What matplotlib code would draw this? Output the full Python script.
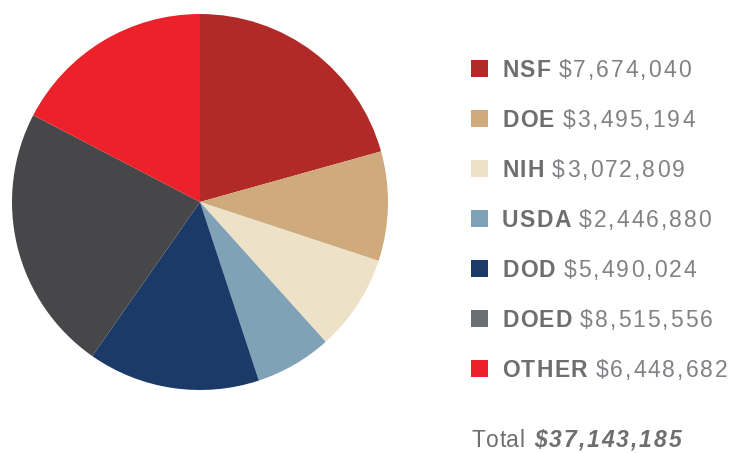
import matplotlib
matplotlib.use('Agg')
import matplotlib.pyplot as plt
from matplotlib.patches import Rectangle

# ── data ──────────────────────────────────────────────────────────────
agencies = ['NSF', 'DOE', 'NIH', 'USDA', 'DOD', 'DOED', 'OTHER']
amounts  = [7674040, 3495194, 3072809, 2446880, 5490024, 8515556, 6448682]
total    = 37143185
pie_colors    = ['#B22A27', '#CFAA7C', '#EDE1C7', '#80A2B7', '#1B3A68', '#474749', '#ED2129']
legend_colors = ['#B22A27', '#CFAA7C', '#EDE1C7', '#80A2B7', '#1B3A68', '#6D6E71', '#ED2129']

W, H = 734, 453
plt.rcParams['font.family'] = ['Liberation Sans', 'DejaVu Sans']
fig = plt.figure(figsize=(W/100, H/100), dpi=100)

def fx(x): return x / W
def fy(y): return 1 - y / H

# pie: centre (200,202), radius 188 px
cx, cy, r = 200, 202, 188
ax = fig.add_axes([fx(cx - r), fy(cy + r), 2*r/W, 2*r/H])
ax.pie(amounts, colors=pie_colors, startangle=90, counterclock=False,
       radius=1, wedgeprops=dict(linewidth=0))
ax.set_xlim(-1, 1);  ax.set_ylim(-1, 1)
ax.set_aspect('auto')
ax.axis('off')

fig.canvas.draw()
renderer = fig.canvas.get_renderer()

def tracked(x, y, s, track, **kw):
    """draw s char by char from pixel x, adding `track` px between glyphs"""
    for ch in s:
        t = fig.text(fx(x), fy(y), ch, va='center_baseline', ha='left', **kw)
        w = t.get_window_extent(renderer).width
        if ch == ' ':
            w = kw.get('fontsize', 10) * 0.28 * 100 / 72
        x += w + track
    return x

# legend
label_col = '#6D6E70'
value_col = '#808184'
fs = 16.5
for i, (name, amt, col) in enumerate(zip(agencies, amounts, legend_colors)):
    yc = 68 + 50*i
    fig.patches.append(Rectangle((fx(471), fy(yc + 8.5)), 17/W, 17/H,
                                 transform=fig.transFigure, color=col, lw=0))
    xe = tracked(502, yc, name, 1.3, fontsize=fs, fontweight='bold', color=label_col)
    tracked(xe + 7, yc, f'${amt:,}', 2.0, fontsize=fs, color=value_col)

xe = tracked(471, 438, 'Total', 0.8, fontsize=fs, color=label_col)
tracked(xe + 8, 438, f'${total:,}', 2.0, fontsize=fs, color=label_col,
        fontweight='bold', fontstyle='italic')

fig.savefig('out.png', dpi=100)
